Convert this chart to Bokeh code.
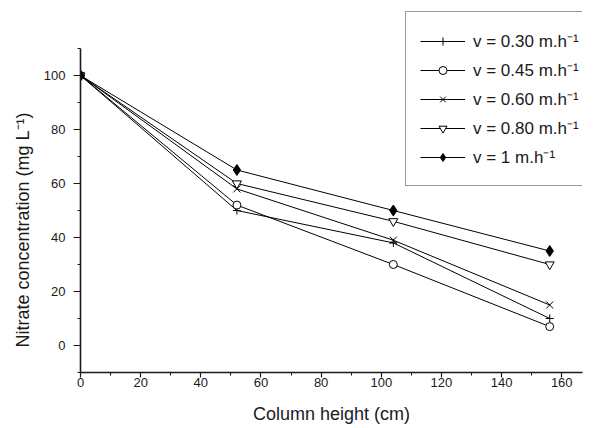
from bokeh.plotting import figure
from bokeh.models import Range1d, SingleIntervalTicker, Legend, LegendItem, Title
from bokeh.embed import file_html
from bokeh.resources import INLINE

# data
heights = [0, 52, 104, 156]
v030 = [100, 50, 38, 10]
v045 = [100, 52, 30, 7]
v060 = [100, 58, 39, 15]
v080 = [100, 60, 46, 30]
v100 = [100, 65, 50, 35]
labels = ["v = 0.30 m.h\u207b\u00b9", "v = 0.45 m.h\u207b\u00b9", "v = 0.60 m.h\u207b\u00b9",
          "v = 0.80 m.h\u207b\u00b9", "v = 1 m.h\u207b\u00b9"]
x_title = "Column height (cm)"
y_title = "Nitrate concentration (mg L\u207b\u00b9)"

FONT = "Liberation Sans"
INK = "#1a1a1a"

p = figure(width=602, height=428, output_backend="svg", toolbar_location=None,
           x_range=Range1d(0, 166.9), y_range=Range1d(-10, 124.07),
           min_border_left=80, min_border_right=20, min_border_top=10, min_border_bottom=56)
p.outline_line_color = None
p.grid.visible = False
p.background_fill_color = "white"
p.border_fill_color = "white"

for ax in (p.xaxis[0], p.yaxis[0]):
    ax.axis_line_width = 1.6
    ax.axis_line_color = INK
    ax.major_tick_line_color = INK
    ax.minor_tick_line_color = INK
    ax.major_tick_line_width = 1.2
    ax.minor_tick_line_width = 1.0
    ax.major_tick_in = 0
    ax.minor_tick_in = 0
    ax.minor_tick_out = 3
    ax.major_label_text_font = FONT
    ax.major_label_text_font_size = "13px"
    ax.major_label_text_color = INK

p.xaxis[0].major_tick_out = 5
p.xaxis[0].major_label_standoff = 0
p.yaxis[0].major_tick_out = 7
p.yaxis[0].major_label_standoff = 8

p.xaxis[0].ticker = SingleIntervalTicker(interval=20, num_minor_ticks=2)
p.yaxis[0].ticker = SingleIntervalTicker(interval=20, num_minor_ticks=2)
p.yaxis[0].bounds = (-10, 110)
p.xaxis[0].axis_label = x_title
p.xaxis[0].axis_label_text_font = FONT
p.xaxis[0].axis_label_text_font_size = "18px"
p.xaxis[0].axis_label_text_font_style = "normal"
p.xaxis[0].axis_label_text_color = INK
p.xaxis[0].axis_label_standoff = 14

series = [v030, v045, v060, v080, v100]
markers = ["cross", "circle", "x", "inverted_triangle", "diamond"]
sizes = [8, 8, 10, 9, 11]
fills = ["white", "white", "white", "white", "black"]

items = []
for vals, mk, sz, fc, lab in zip(series, markers, sizes, fills, labels):
    ln = p.line(heights, vals, line_color="black", line_width=1)
    sc = p.scatter(heights, vals, marker=mk, size=sz, line_color="black",
                   fill_color=fc, line_width=1)
    items.append(LegendItem(label=lab, renderers=[ln, sc]))

legend = Legend(items=items, location=(325, 186))
legend.margin = 0
legend.padding = 14
legend.spacing = 0
legend.glyph_width = 45
legend.glyph_height = 20
legend.label_height = 29
legend.label_standoff = 8
legend.label_text_font = FONT
legend.label_text_font_size = "17px"
legend.label_text_color = INK
legend.border_line_color = "#333333"
legend.border_line_width = 1.2
legend.background_fill_color = "white"
p.add_layout(legend, "center")

ytitle = Title(text=y_title, align="left", offset=25, text_font=FONT,
               text_font_size="18px", text_font_style="normal", text_color=INK, standoff=16)
p.add_layout(ytitle, "left")

open("out.html", "w").write(file_html(p, INLINE))
